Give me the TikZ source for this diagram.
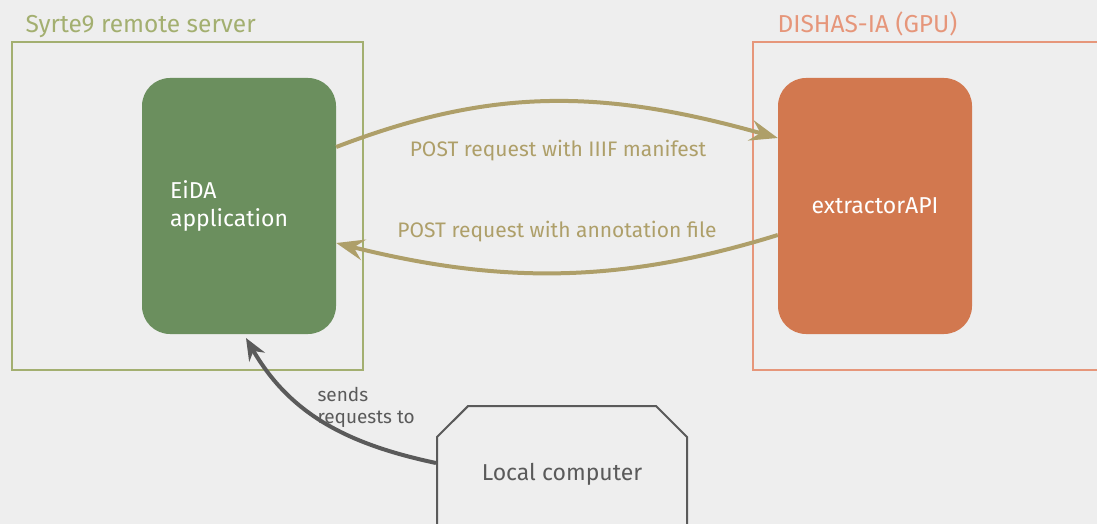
\documentclass[tikz,border=0pt]{standalone}
\usepackage{fontspec}
\setmainfont{Fira Sans}
\usetikzlibrary{arrows.meta,shapes.misc}
\definecolor{bg}{HTML}{EEEEEE}
\definecolor{srvline}{HTML}{A3AF70}
\definecolor{eidafill}{HTML}{6B8F5E}
\definecolor{gpuline}{HTML}{E6967A}
\definecolor{apifill}{HTML}{D2784F}
\definecolor{postcol}{HTML}{AE9F69}
\definecolor{darkcol}{HTML}{5A5A5A}
\begin{document}
\begin{tikzpicture}[x=1pt,y=-1pt,
  hostbox/.style={draw, line width=2pt, inner sep=0pt},
  appbox/.style={rounded corners=28pt, inner sep=0pt, minimum width=194pt, minimum height=256pt, text=white, font=\fontsize{23}{28}\selectfont},
  title/.style={anchor=base west, font=\fontsize{24.5}{28}\selectfont},
  postarrow/.style={postcol, line width=4pt, -{Stealth[length=28pt,width=21pt,inset=10pt]}},
  postlabel/.style={text=postcol, font=\fontsize{21}{24}\selectfont}]
\useasboundingbox[fill=bg] (0,0) rectangle (1097,524);
\clip (0,0) rectangle (1097,524);
\node[hostbox, draw=srvline, minimum width=351pt, minimum height=328pt] (srv) at (187.5,206){};
\node[title, text=srvline] (srvname) at (22,33){Syrte9 remote server};
\node[hostbox, draw=gpuline, minimum width=380pt, minimum height=328pt] (gpu) at (943,206){};
\node[title, text=gpuline] (gpuname) at (774,33){DISHAS-IA (GPU)};
\node[appbox, fill=eidafill, text width=138pt, inner xsep=28pt, align=left] (eida) at (239,206){EiDA\\application};
\node[appbox, fill=apifill, align=center] (api) at (875,206){extractorAPI};
\node[chamfered rectangle, chamfered rectangle corners={north east,north west}, chamfered rectangle xsep=20pt, chamfered rectangle ysep=20pt, draw=darkcol, line width=2pt, inner sep=0pt, minimum width=250pt, minimum height=136pt, text=darkcol, font=\fontsize{23}{27}\selectfont] (lc) at (562,474){Local computer};
\draw[postarrow] ([yshift=59pt]eida.east) .. controls (490,88) and (600,88) .. ([yshift=68pt]api.west);
\node[postlabel] (manif) at (558,151){POST request with IIIF manifest};
\draw[postarrow] ([yshift=-29pt]api.west) .. controls (620,284) and (500,284) .. ([yshift=-37pt]eida.east);
\node[postlabel] (annot) at (557,232){POST request with annotation file};
\draw[darkcol, line width=4pt, -{Stealth[length=22pt,width=18pt,inset=7pt]}] ([yshift=11pt]lc.west) to[out=168,in=-60] (246,338);
\node[text=darkcol, align=left, anchor=north west, font=\fontsize{19}{22}\selectfont] (sends) at (314,384){sends\\requests to};
\end{tikzpicture}
\end{document}
